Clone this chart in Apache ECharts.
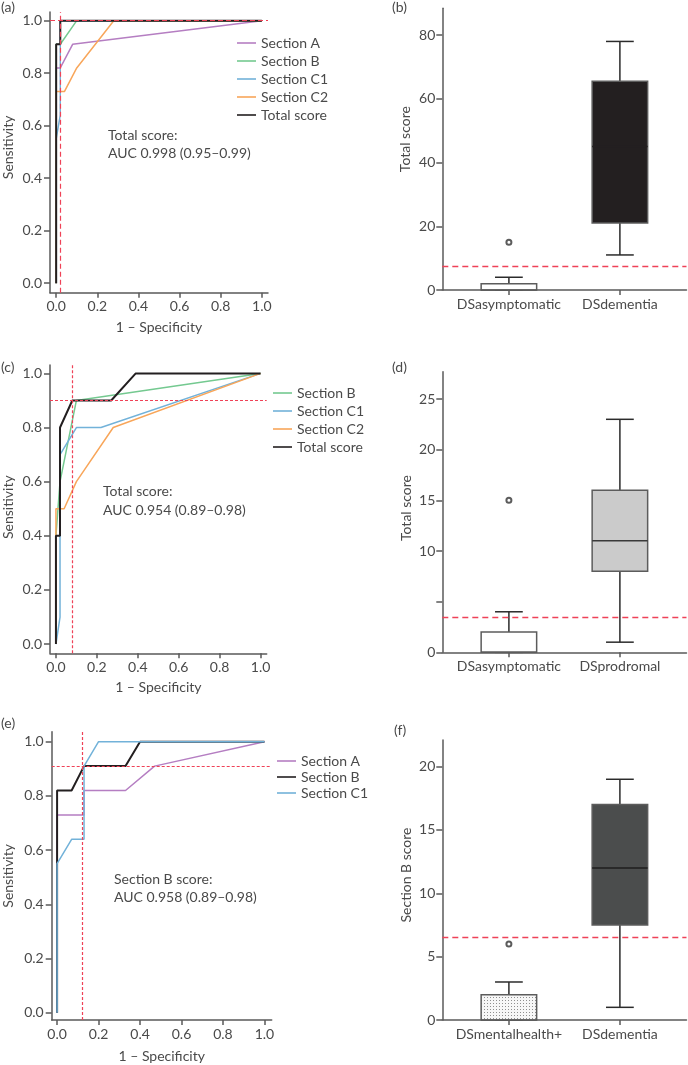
<!DOCTYPE html>
<html>
<head>
<meta charset="utf-8">
<script src="https://cdn.jsdelivr.net/npm/echarts@6/dist/echarts.min.js"></script>
<style>
html, body { margin: 0; padding: 0; background: #fff; }
#main { width: 688px; height: 1065px; }
</style>
</head>
<body>
<div id="main"></div>
<script>
// ---- ROC curves: [1 - specificity, sensitivity] ----
var rocTicks = [0, 0.2, 0.4, 0.6, 0.8, 1.0];

// (a) DS asymptomatic vs DS dementia
var aSectionA  = [[0, 0], [0, 0.82], [0.02, 0.82], [0.08, 0.91], [1, 1]];
var aSectionB  = [[0, 0], [0, 0.91], [0.02, 0.91], [0.1, 1], [1, 1]];
var aSectionC1 = [[0, 0], [0, 0.55], [0.02, 0.64], [0.02, 1], [1, 1]];
var aSectionC2 = [[0, 0], [0, 0.73], [0.04, 0.73], [0.1, 0.82], [0.28, 1], [1, 1]];
var aTotal     = [[0, 0], [0, 0.91], [0.02, 0.91], [0.02, 1], [1, 1]];
var aCutX = 0.02, aCutY = 1.0;

// (c) DS asymptomatic vs DS prodromal
var cSectionB  = [[0, 0], [0, 0.4], [0.02, 0.6], [0.1, 0.9], [1, 1]];
var cSectionC1 = [[0, 0], [0.02, 0.1], [0.02, 0.7], [0.1, 0.8], [0.22, 0.8], [1, 1]];
var cSectionC2 = [[0, 0], [0, 0.5], [0.04, 0.5], [0.1, 0.6], [0.28, 0.8], [1, 1]];
var cTotal     = [[0, 0], [0, 0.4], [0.02, 0.4], [0.02, 0.8], [0.08, 0.9], [0.27, 0.9], [0.39, 1], [1, 1]];
var cCutX = 0.08, cCutY = 0.9;

// (e) DS mental health+ vs DS dementia
var eSectionA  = [[0, 0], [0, 0.73], [0.13, 0.73], [0.13, 0.82], [0.33, 0.82], [0.47, 0.91], [1, 1]];
var eSectionB  = [[0, 0], [0, 0.82], [0.07, 0.82], [0.13, 0.91], [0.33, 0.91], [0.4, 1], [1, 1]];
var eSectionC1 = [[0, 0], [0, 0.55], [0.07, 0.64], [0.13, 0.64], [0.13, 0.91], [0.2, 1], [1, 1]];
var eCutX = 0.12, eCutY = 0.91;

// ---- box plots: [position, min, Q1, median, Q3, max] ----
var bGroups = ['DSasymptomatic', 'DSdementia'];
var bBoxes = [[0, 0, 0, 0, 2, 4], [1, 11, 21, 45, 65.5, 78]];
var bOutliers = [[0, 15]];
var bTicks = [0, 20, 40, 60, 80];
var bCut = 7.5;

var dGroups = ['DSasymptomatic', 'DSprodromal'];
var dBoxes = [[0, 0, 0, 0, 2, 4], [1, 1, 8, 11, 16, 23]];
var dOutliers = [[0, 15]];
var dTicks = [0, 5, 10, 15, 20, 25];
var dTickLabels = [0, 10, 15, 20, 25];
var dCut = 3.5;

var fGroups = ['DSmentalhealth+', 'DSdementia'];
var fBoxes = [[0, 0, 0, 0, 2, 3], [1, 1, 7.5, 12, 17, 19]];
var fOutliers = [[0, 6]];
var fTicks = [0, 5, 10, 15, 20];
var fCut = 6.5;

var FONT = 'Lato';
var TXT = '#4a4a4a';
var AX = '#5a5a5a';
var RED = '#ef4257';
var PURPLE = '#b57ec2', GREEN = '#74c990', BLUE = '#72b2d9', ORANGE = '#f8a65a', BLACK = '#231f20';

// stipple fill for the DSmentalhealth+ box
var dots = document.createElement('canvas');
dots.width = 3; dots.height = 3;
var g = dots.getContext('2d');
g.fillStyle = '#f7f7f7'; g.fillRect(0, 0, 3, 3);
g.fillStyle = '#8f8f8f'; g.fillRect(1, 1, 1, 1);
var dotFill = { image: dots, repeat: 'repeat' };

var myChart = echarts.init(document.getElementById('main'));

function axisLineStyle() {
  return { show: true, onZero: false, lineStyle: { color: AX, width: 1.5 } };
}

// lift = how far the rotated y name sits above the axis middle
function yName(lift) {
  return { fontFamily: FONT, fontSize: 14, color: TXT, padding: [0, 0, 0, lift * 2] };
}

function rocXAxis(gi, min, max, gap) {
  return {
    type: 'value', gridIndex: gi, min: min, max: max,
    name: '1 \u2013 Specificity', nameLocation: 'middle', nameGap: gap,
    nameTextStyle: { fontFamily: FONT, fontSize: 14, color: TXT },
    axisLine: axisLineStyle(),
    axisTick: { show: true, length: 5, customValues: rocTicks, lineStyle: { color: AX, width: 1.5 } },
    axisLabel: { customValues: rocTicks, margin: 7, fontFamily: FONT, fontSize: 14, color: TXT,
      formatter: function (v) { return v.toFixed(1); } },
    splitLine: { show: false }
  };
}

function rocYAxis(gi, min, max, gap, lift) {
  return {
    type: 'value', gridIndex: gi, min: min, max: max,
    name: 'Sensitivity', nameLocation: 'middle', nameGap: gap,
    nameTextStyle: yName(lift),
    axisLine: axisLineStyle(),
    axisTick: { show: true, length: 6, customValues: rocTicks, lineStyle: { color: AX, width: 1.5 } },
    axisLabel: { customValues: rocTicks, margin: 8, fontFamily: FONT, fontSize: 14, color: TXT,
      formatter: function (v) { return v.toFixed(1); } },
    splitLine: { show: false }
  };
}

function boxXAxis(gi, groups) {
  return {
    type: 'value', gridIndex: gi, min: -0.6, max: 1.6,
    axisLine: axisLineStyle(),
    axisTick: { show: true, length: 5, customValues: [0, 1], lineStyle: { color: AX, width: 1.5 } },
    axisLabel: { customValues: [0, 1], margin: 7, fontFamily: FONT, fontSize: 14, color: TXT,
      formatter: function (v) { return groups[Math.round(v)]; } },
    splitLine: { show: false }
  };
}

function boxYAxis(gi, max, name, ticks, labels, gap, lift) {
  return {
    type: 'value', gridIndex: gi, min: 0, max: max,
    name: name, nameLocation: 'middle', nameGap: gap,
    nameTextStyle: yName(lift),
    axisLine: axisLineStyle(),
    axisTick: { show: true, length: 6, customValues: ticks, lineStyle: { color: AX, width: 1.5 } },
    axisLabel: { customValues: labels, margin: 7, fontFamily: FONT, fontSize: 14, color: TXT },
    splitLine: { show: false }
  };
}

function roc(name, gi, data, color, w) {
  return {
    type: 'line', name: name, xAxisIndex: gi, yAxisIndex: gi, data: data,
    symbol: 'none', silent: true,
    lineStyle: { color: color, width: w || 1.5 }, itemStyle: { color: color }
  };
}

function cutLines(gi, items, dash) {
  return {
    type: 'line', name: 'cut' + gi, xAxisIndex: gi, yAxisIndex: gi, data: [],
    markLine: {
      silent: true, symbol: ['none', 'none'], label: { show: false },
      lineStyle: { color: RED, width: 1.2, type: dash },
      data: items
    }
  };
}

function boxRender(fills, medians) {
  return function (params, api) {
    var x = api.value(0);
    var low = api.coord([x, api.value(1)]);
    var q1 = api.coord([x - 0.25, api.value(2)]);
    var m1 = api.coord([x - 0.25, api.value(3)]);
    var m2 = api.coord([x + 0.25, api.value(3)]);
    var q3 = api.coord([x + 0.25, api.value(4)]);
    var high = api.coord([x, api.value(5)]);
    var cl = api.coord([x - 0.125, 0])[0];
    var cr = api.coord([x + 0.125, 0])[0];
    var ws = { stroke: '#2b2b2b', lineWidth: 1.5 };
    return {
      type: 'group',
      children: [
        { type: 'line', shape: { x1: low[0], y1: low[1], x2: high[0], y2: high[1] }, style: ws },
        { type: 'line', shape: { x1: cl, y1: high[1], x2: cr, y2: high[1] }, style: ws },
        { type: 'line', shape: { x1: cl, y1: low[1], x2: cr, y2: low[1] }, style: ws },
        { type: 'rect', shape: { x: q1[0], y: q3[1], width: q3[0] - q1[0], height: q1[1] - q3[1] },
          style: { fill: fills[params.dataIndex], stroke: '#5c5c5c', lineWidth: 1.5 } },
        { type: 'line', shape: { x1: m1[0], y1: m1[1], x2: m2[0], y2: m2[1] },
          style: { stroke: medians[params.dataIndex], lineWidth: 1.5 } }
      ]
    };
  };
}

function boxSeries(gi, data, fills, medians, cut) {
  return {
    type: 'custom', xAxisIndex: gi, yAxisIndex: gi, data: data,
    encode: { x: 0, y: [1, 2, 3, 4, 5] },
    renderItem: boxRender(fills, medians),
    markLine: {
      silent: true, symbol: ['none', 'none'], label: { show: false },
      lineStyle: { color: RED, width: 1.3, type: [6, 4] },
      data: [{ yAxis: cut }]
    }
  };
}

function outlierSeries(gi, data) {
  return {
    type: 'scatter', xAxisIndex: gi, yAxisIndex: gi, data: data,
    symbol: 'emptyCircle', symbolSize: 5, silent: true,
    itemStyle: { color: '#333', borderWidth: 1 }
  };
}

function panelLabel(text, left, top) {
  return { text: text, left: left, top: top, padding: 0,
    textStyle: { fontFamily: FONT, fontSize: 14, fontWeight: 'normal', color: TXT, lineHeight: 14 } };
}

function note(text, left, top, lh) {
  return { text: text, left: left, top: top, padding: 0,
    textStyle: { fontFamily: FONT, fontSize: 14, fontWeight: 'normal', color: TXT, lineHeight: lh } };
}

function legendAt(left, top, gap, data) {
  return {
    orient: 'vertical', left: left, top: top, padding: 0,
    icon: 'rect', itemWidth: 19, itemHeight: 1.6, itemGap: gap, selectedMode: false,
    textStyle: { fontFamily: FONT, fontSize: 14, color: TXT, lineHeight: 14 },
    data: data
  };
}

var option = {
  animation: false,
  backgroundColor: '#fff',
  title: [
    panelLabel('(a)', 1, 0),
    panelLabel('(b)', 392, 0),
    panelLabel('(c)', 1, 360),
    panelLabel('(d)', 392, 360),
    panelLabel('(e)', 1, 716),
    panelLabel('(f)', 394, 723),
    note('Total score:\nAUC 0.998 (0.95\u20130.99)', 108, 126, 18),
    note('Total score:\nAUC 0.954 (0.89\u20130.98)', 103, 482, 19),
    note('Section B score:\nAUC 0.958 (0.89\u20130.98)', 114, 870, 18)
  ],
  legend: [
    legendAt(237, 36, 4, ['Section A', 'Section B', 'Section C1', 'Section C2', 'Total score']),
    legendAt(273, 386, 4, ['Section B', 'Section C1', 'Section C2', 'Total score']),
    legendAt(277, 754, 2, [
      { name: 'Section A' },
      { name: 'Section B', itemStyle: { color: BLACK } },
      { name: 'Section C1' }
    ])
  ],
  grid: [
    { left: 50, top: 12, width: 218, height: 280.7 },
    { left: 50, top: 365, width: 216.7, height: 288.3 },
    { left: 51.7, top: 731.7, width: 220, height: 288.3 },
    { left: 442.3, top: 8.3, width: 244.2, height: 281.7 },
    { left: 442.3, top: 371.7, width: 244.2, height: 280.6 },
    { left: 442.3, top: 740, width: 244.2, height: 280 }
  ],
  xAxis: [
    rocXAxis(0, -0.03, 1.03, 28),
    rocXAxis(1, -0.029, 1.03, 27),
    rocXAxis(2, -0.026, 1.035, 29),
    boxXAxis(3, bGroups),
    boxXAxis(4, dGroups),
    boxXAxis(5, fGroups)
  ],
  yAxis: [
    rocYAxis(0, -0.036, 1.033, 35, 5),
    rocYAxis(1, -0.034, 1.031, 35, 2),
    rocYAxis(2, -0.027, 1.037, 36, 0),
    boxYAxis(3, 88.4, 'Total score', bTicks, bTicks, 30, 10),
    boxYAxis(4, 27.7, 'Total score', dTicks, dTickLabels, 29, 4),
    boxYAxis(5, 22.1, 'Section B score', fTicks, fTicks, 29, 5)
  ],
  series: [
    roc('Section A', 0, aSectionA, PURPLE),
    roc('Section B', 0, aSectionB, GREEN),
    roc('Section C1', 0, aSectionC1, BLUE),
    roc('Section C2', 0, aSectionC2, ORANGE),
    roc('Total score', 0, aTotal, BLACK, 2),
    cutLines(0, [{ xAxis: aCutX }, { yAxis: aCutY }], [5, 3]),

    roc('Section B', 1, cSectionB, GREEN),
    roc('Section C1', 1, cSectionC1, BLUE),
    roc('Section C2', 1, cSectionC2, ORANGE),
    roc('Total score', 1, cTotal, BLACK, 2),
    cutLines(1, [{ xAxis: cCutX }, { yAxis: cCutY }], [3, 2]),

    roc('Section A', 2, eSectionA, PURPLE),
    roc('Section B', 2, eSectionB, BLACK, 2),
    roc('Section C1', 2, eSectionC1, BLUE),
    cutLines(2, [{ xAxis: eCutX }, { yAxis: eCutY }], [3, 2]),

    boxSeries(3, bBoxes, ['#ffffff', '#231f20'], ['#5c5c5c', '#231f20'], bCut),
    outlierSeries(3, bOutliers),
    boxSeries(4, dBoxes, ['#ffffff', '#cbcbcb'], ['#5c5c5c', '#3a3a3a'], dCut),
    outlierSeries(4, dOutliers),
    boxSeries(5, fBoxes, [dotFill, '#4b4d4d'], ['#5c5c5c', '#1e1e1e'], fCut),
    outlierSeries(5, fOutliers)
  ]
};

myChart.setOption(option);
</script>
</body>
</html>
